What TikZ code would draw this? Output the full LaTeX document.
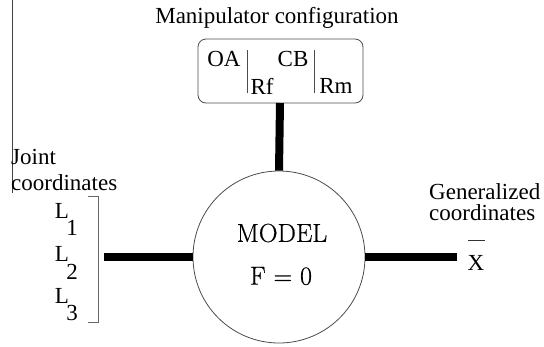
\documentclass[tikz,border=0pt]{standalone}
\usepackage{fontspec}
\setmainfont{Liberation Serif}
\newfontfamily\lmfont[FakeBold=0.6]{Latin Modern Roman}
\begin{document}
\begin{tikzpicture}[x=1pt,y=-1pt,
  txt/.style={inner sep=0pt,font=\fontsize{23}{27}\selectfont},
  mtxt/.style={inner sep=0pt,font=\lmfont\fontsize{26}{30}\selectfont},
  thin line/.style={draw=black!70,line width=0.8pt},
  thick link/.style={line width=8pt,draw=black}]
\useasboundingbox (0,0) rectangle (544,346);
% title and configuration box
\node[txt] (title) at (277,18) {Manipulator configuration};
\node[thin line,rounded corners=8pt,minimum width=165pt,minimum height=64pt,inner sep=0pt] (box) at (280.5,71) {};
\node[txt] (oa) at (224,59) {OA};
\node[txt] (cb) at (293,59) {CB};
\node[txt] (rf) at (262,86) {Rf};
\node[txt] (rm) at (336,86) {Rm};
\coordinate (b1t) at (247,50); \coordinate (b1b) at (247,93);
\coordinate (b2t) at (314,50); \coordinate (b2b) at (314,93);
\draw[thin line] (b1t) -- (b1b);
\draw[thin line] (b2t) -- (b2b);
% model circle
\node[thin line,circle,minimum size=172pt,inner sep=0pt] (model) at (279,257) {};
\node[mtxt] (mlab) at (282,233) {MODEL};
\node[mtxt] (flab) at (281,276) {F = 0};
% connectors
\coordinate (boxb) at (280,103);
\draw[thick link] (boxb) -- (model.north);
\coordinate (lend) at (104,257);
\draw[thick link] (lend) -- (model.west);
\coordinate (rend) at (457,257);
\draw[thick link] (model.east) -- (rend);
% joint coordinates
\coordinate (vtop) at (12,0); \coordinate (vbot) at (12,193);
\draw[draw=black!75,line width=0.8pt] (vtop) -- (vbot);
\node[txt,anchor=west] (joint) at (11,157) {Joint};
\node[txt,anchor=west] (jcoord) at (11,183) {coordinates};
\node[txt] (l1) at (62,211) {L};
\node[txt] (s1) at (72,228) {1};
\node[txt] (l2) at (62,254) {L};
\node[txt] (s2) at (72,272) {2};
\node[txt] (l3) at (62,296) {L};
\node[txt] (s3) at (72,313) {3};
\coordinate (bra) at (88,196); \coordinate (brb) at (98,196);
\coordinate (brc) at (98,322); \coordinate (brd) at (88,322);
\draw[draw=black!60,line width=0.8pt] (bra) -- (brb) -- (brc) -- (brd);
% generalized coordinates
\node[txt,anchor=west] (gen) at (429,192) {Generalized};
\node[txt,anchor=west] (gcoord) at (429,213) {coordinates};
\node[txt] (xv) at (476,263) {X};
\coordinate (xba) at (468,240); \coordinate (xbb) at (485,240);
\draw[draw=black!80,line width=0.9pt] (xba) -- (xbb);
\end{tikzpicture}
\end{document}
